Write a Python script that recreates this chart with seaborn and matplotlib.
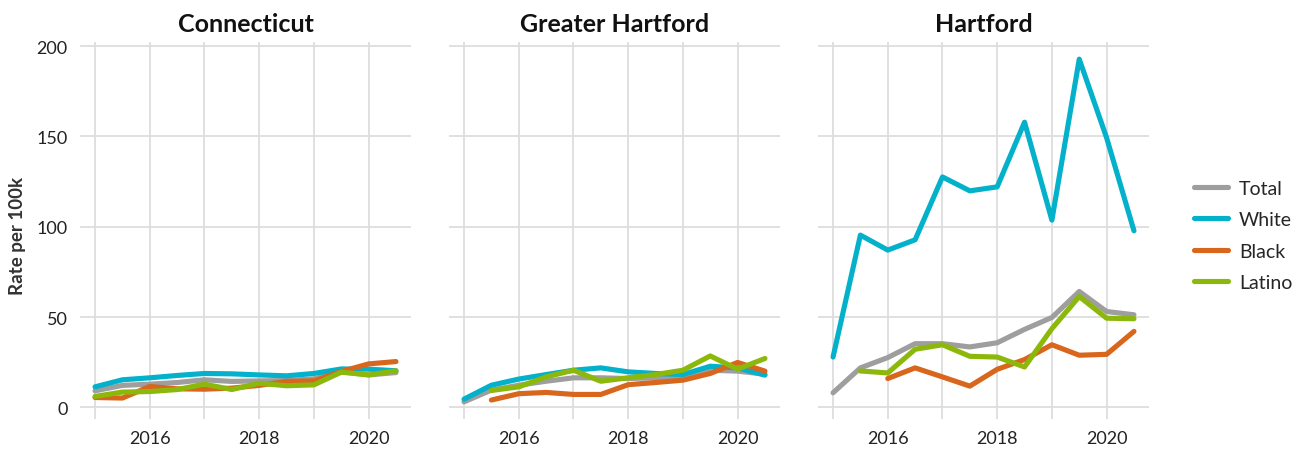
import numpy as np
import pandas as pd
import seaborn as sns
import matplotlib.pyplot as plt
from matplotlib.lines import Line2D
from matplotlib.ticker import MultipleLocator

# half-year steps
years = [2015, 2015.5, 2016, 2016.5, 2017, 2017.5, 2018, 2018.5, 2019, 2019.5, 2020, 2020.5]
groups = ['Total', 'White', 'Black', 'Latino']
regions = ['Connecticut', 'Greater Hartford', 'Hartford']
nan = np.nan

ct_total = [9.2, 12.2, 12.9, 13.8, 15.3, 14.4, 14.7, 14.9, 15.8, 19.9, 18.0, 19.3]
ct_white = [11.4, 15.3, 16.4, 17.7, 18.8, 18.6, 18.0, 17.5, 18.8, 21.3, 21.2, 20.3]
ct_black = [5.5, 5.2, 11.6, 10.3, 10.1, 10.7, 12.2, 14.4, 14.7, 19.9, 24.1, 25.4]
ct_latino = [6.1, 8.5, 8.8, 9.9, 12.9, 9.9, 13.4, 12.0, 12.5, 19.5, 18.0, 20.3]

gh_total = [3.1, 9.6, 12.3, 14.5, 16.4, 16.4, 16.0, 16.4, 17.3, 20.6, 20.1, 18.4]
gh_white = [4.6, 12.3, 15.7, 18.2, 20.6, 21.9, 19.7, 18.8, 18.2, 22.8, 21.9, 17.9]
gh_black = [nan, 4.1, 7.6, 8.3, 7.2, 7.2, 12.6, 13.8, 15.1, 18.8, 24.9, 20.1]
gh_latino = [nan, 9.4, 11.4, 16.9, 20.6, 14.5, 16.4, 18.2, 20.6, 28.5, 21.2, 27.1]

hf_total = [8.1, 21.9, 27.6, 35.3, 35.3, 33.5, 35.8, 43.2, 49.8, 64.2, 53.1, 51.3]
hf_white = [27.9, 95.4, 87.1, 92.8, 127.6, 119.9, 122.1, 157.9, 103.7, 192.8, 149.3, 97.8]
hf_black = [nan, nan, 16.0, 21.9, 16.9, 11.8, 21.1, 26.5, 34.7, 28.9, 29.4, 42.1]
hf_latino = [nan, 20.2, 19.1, 32.2, 34.7, 28.3, 27.9, 22.4, 43.6, 61.4, 49.4, 49.1]

series = {
    'Connecticut': [ct_total, ct_white, ct_black, ct_latino],
    'Greater Hartford': [gh_total, gh_white, gh_black, gh_latino],
    'Hartford': [hf_total, hf_white, hf_black, hf_latino],
}

rows = []
for reg in regions:
    for grp, vals in zip(groups, series[reg]):
        for yr, v in zip(years, vals):
            rows.append({'region': reg, 'group': grp, 'year': yr, 'rate': v})
df = pd.DataFrame(rows).dropna()

palette = {'Total': '#9e9e9e', 'White': '#03b1cb', 'Black': '#d8661c', 'Latino': '#8cb80c'}

sns.set_theme(style='white')
plt.rcParams['font.family'] = ['Lato', 'DejaVu Sans']

fig = plt.figure(figsize=(13.06, 4.52), dpi=100)
lefts = [80, 449, 818]
for i, reg in enumerate(regions):
    ax = fig.add_axes([lefts[i] / 1306, 32 / 452, 331 / 1306, 377 / 452])
    sub = df[df.region == reg]
    sns.lineplot(data=sub, x='year', y='rate', hue='group', hue_order=groups,
                 palette=palette, linewidth=3.7, legend=False, ax=ax)
    ax.set_xlim(2014.725, 2020.775)
    ax.set_ylim(-6.4, 202.3)
    ax.xaxis.set_minor_locator(MultipleLocator(1))
    ax.set_xticks([2016, 2018, 2020])
    ax.set_xticklabels(['2016', '2018', '2020'])
    ax.set_yticks([0, 50, 100, 150, 200])
    ax.grid(True, which='both', axis='x', color='#dddddd', linewidth=1.3)
    ax.grid(True, which='major', axis='y', color='#dddddd', linewidth=1.3)
    ax.set_axisbelow(True)
    for s in ax.spines.values():
        s.set_visible(False)
    ax.tick_params(axis='both', which='both', length=0, labelsize=13,
                   labelcolor='#222222')
    ax.tick_params(axis='x', pad=8)
    ax.tick_params(axis='y', pad=9)
    ax.set_xlabel('')
    ax.set_ylabel('')
    if i > 0:
        ax.set_yticklabels([])
    ax.set_title(reg, fontsize=18, fontweight='bold', pad=8, color='#111111')

fig.text(18 / 1306, 0.478, 'Rate per 100k', rotation=90, ha='center', va='center',
         fontsize=13.5, fontweight='bold', color='#333333')

handles = [Line2D([], [], color=palette[g], linewidth=3.7) for g in groups]
fig.legend(handles, groups, loc='center left', bbox_to_anchor=(1194 / 1306, 0.477),
           frameon=False, fontsize=14, handlelength=1.75, handletextpad=0.56,
           labelspacing=0.75, borderpad=0, borderaxespad=0)

fig.savefig('out.png', dpi=100)
